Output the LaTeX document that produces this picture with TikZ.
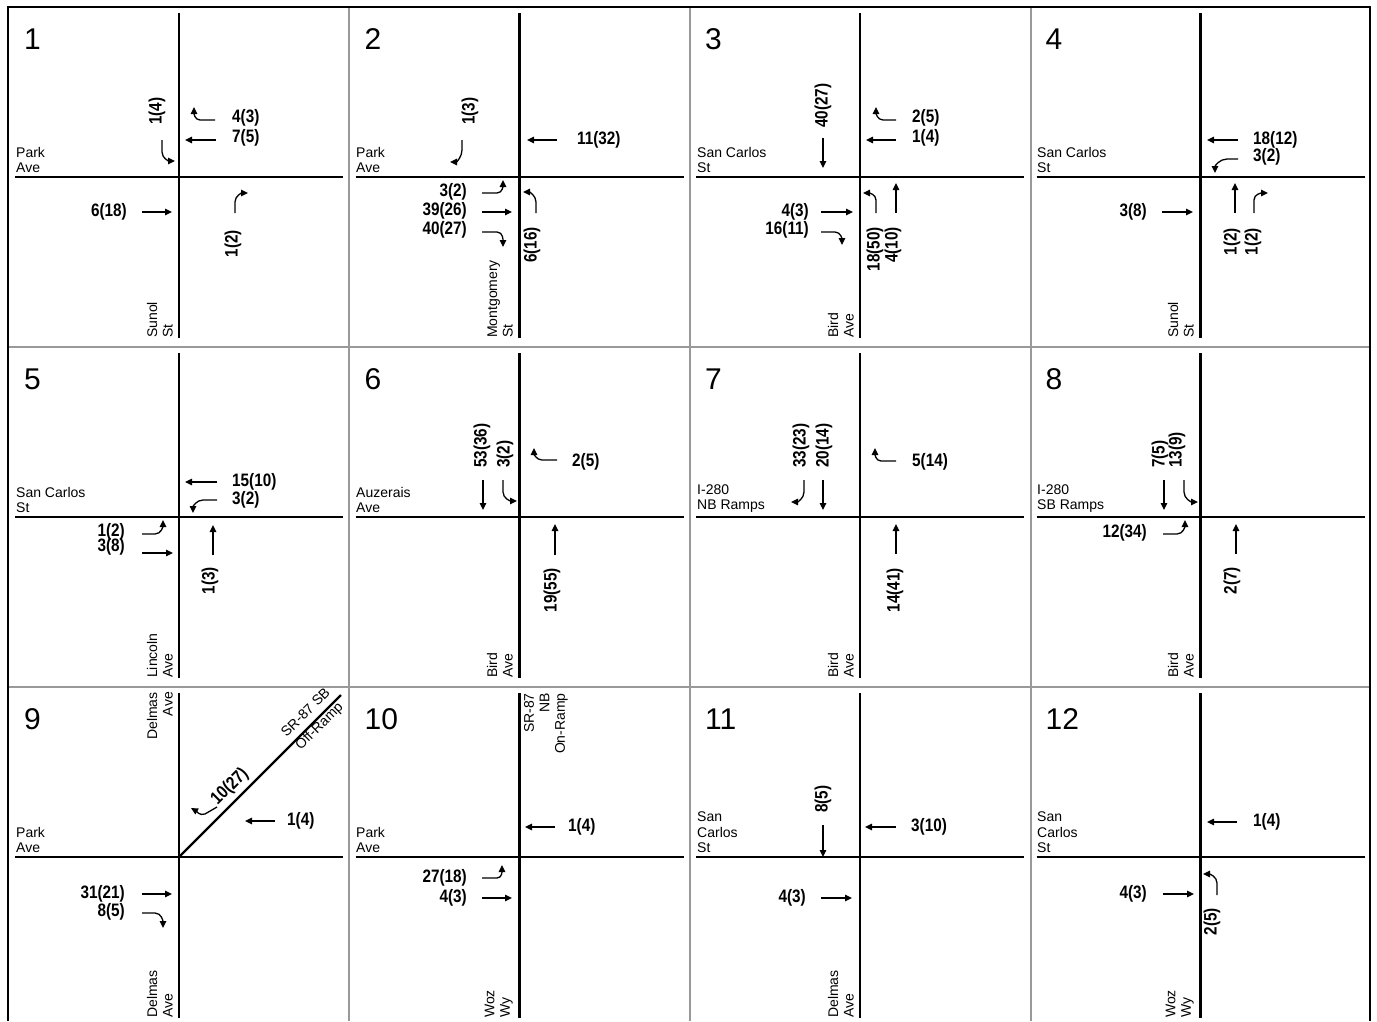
\documentclass[tikz,border=0pt]{standalone}
\usepackage{graphicx}
\usepackage{fontspec}
\setmainfont{Liberation Sans}
\usetikzlibrary{arrows.meta}

\newcommand{\vol}[1]{\scalebox{0.85}[1]{\bfseries #1}}

\begin{document}
\begin{tikzpicture}[x=1pt,y=1pt,
	road/.style={line width=2.2pt},
	mv/.style={line width=1.3pt,-{Triangle[length=7pt,width=6.5pt]}},
	cell/.style={line width=1.6pt,gray!80},
	frame/.style={line width=2pt,black},
	volw/.style={font=\fontsize{18}{18}\selectfont,inner sep=0pt,anchor=west},
	vole/.style={font=\fontsize{18}{18}\selectfont,inner sep=0pt,anchor=east},
	volsb/.style={font=\fontsize{18}{18}\selectfont,inner sep=0pt,rotate=90,anchor=west},
	volnb/.style={font=\fontsize{18}{18}\selectfont,inner sep=0pt,rotate=90,anchor=east},
	street/.style={font=\fontsize{14}{15.5}\selectfont,inner sep=0pt,anchor=south west,align=left},
	vstreet/.style={font=\fontsize{14}{15.5}\selectfont,inner sep=0pt,rotate=90,anchor=south west,align=left},
	pnum/.style={font=\fontsize{30}{30}\selectfont,inner sep=0pt,anchor=base west}]
	\useasboundingbox (0,0) rectangle (1377,-1021);
	
	% grid of panels
	\foreach \x in {349,690,1031}{
		\draw[cell] (\x,-7) -- (\x,-1021);
	}
	\foreach \y in {347,687}{
		\draw[cell] (8,-\y) -- (1370,-\y);
	}
	\draw[frame] (8,-1021) -- (8,-7) -- (1370,-7) -- (1370,-1021);
	
	% roads and panel numbers
	\foreach \r in {0,1,2}{
		\foreach \c in {0,...,3}{
			\pgfmathsetmacro\px{179+340.5*\c}
			\pgfmathsetmacro\py{-177-340*\r}
			\pgfmathtruncatemacro\k{4*\r+\c+1}
			\draw[road] (\px,\py+164) -- (\px,\py-161);
			\draw[road] (\px-164,\py) -- (\px+164,\py);
			\node[pnum] (num\k) at (\px-155,\py+128) {\k};
		}
	}
	
	% 1: Park Ave / Sunol St
	\begin{scope}[shift={(179,-177)}]
		\node[street] (st1a) at (-163,4) {Park\\Ave};
		\node[vstreet] (st1b) at (-6,-161) {Sunol\\St};
		\node[volsb] (v1s) at (-22,52) {\vol{1(4)}};
		\draw[mv] (-17,37) -- (-17,25) to[out=-90,in=180] (-4,16);
		\draw[mv] (36,57) -- (21,57) to[out=180,in=-90] (15,70);
		\draw[mv] (37,37) -- (6,37);
		\node[volw] (v1w1) at (53,59) {\vol{4(3)}};
		\node[volw] (v1w2) at (53,39) {\vol{7(5)}};
		\draw[mv] (-37,-35) -- (-7,-35);
		\node[vole] (v1e) at (-52,-35) {\vol{6(18)}};
		\draw[mv] (56,-36) -- (56,-25) to[out=90,in=180] (69,-16);
		\node[volnb] (v1n) at (54,-53) {\vol{1(2)}};
	\end{scope}
	
	% 2: Park Ave / Montgomery St
	\begin{scope}[shift={(519,-177)}]
		\node[street] (st2a) at (-163,4) {Park\\Ave};
		\node[vstreet] (st2b) at (-6,-161) {Montgomery\\St};
		\node[volsb] (v2s) at (-49,52) {\vol{1(3)}};
		\draw[mv] (-57,37) -- (-57,27) to[out=-90,in=0] (-69,15);
		\draw[mv] (38,37) -- (8,37);
		\node[volw] (v2w) at (58,37) {\vol{11(32)}};
		\draw[mv] (-37,-16) -- (-22,-16) to[out=0,in=-90] (-16,-3);
		\draw[mv] (-37,-35) -- (-7,-35);
		\draw[mv] (-37,-55) -- (-22,-55) to[out=0,in=90] (-16,-70);
		\node[vole] (v2e1) at (-52,-15) {\vol{3(2)}};
		\node[vole] (v2e2) at (-52,-34) {\vol{39(26)}};
		\node[vole] (v2e3) at (-52,-53) {\vol{40(27)}};
		\draw[mv] (17,-36) -- (17,-25) to[out=90,in=0] (4,-15);
		\node[volnb] (v2n) at (13,-50) {\vol{6(16)}};
	\end{scope}
	
	% 3: San Carlos St / Bird Ave
	\begin{scope}[shift={(860,-177)}]
		\node[street] (st3a) at (-163,4) {San Carlos\\St};
		\node[vstreet] (st3b) at (-6,-161) {Bird\\Ave};
		\node[volsb] (v3s) at (-37,49) {\vol{40(27)}};
		\draw[mv] (-37,39) -- (-37,9);
		\draw[mv] (36,57) -- (23,57) to[out=180,in=-90] (16,70);
		\draw[mv] (36,37) -- (6,37);
		\node[volw] (v3w1) at (52,59) {\vol{2(5)}};
		\node[volw] (v3w2) at (52,39) {\vol{1(4)}};
		\draw[mv] (-39,-35) -- (-7,-35);
		\draw[mv] (-39,-55) -- (-25,-55) to[out=0,in=90] (-18,-68);
		\node[vole] (v3e1) at (-51,-35) {\vol{4(3)}};
		\node[vole] (v3e2) at (-51,-53) {\vol{16(11)}};
		\draw[mv] (16,-36) -- (16,-23) to[out=90,in=0] (3,-16);
		\draw[mv] (36,-36) -- (36,-6);
		\node[volnb] (v3n1) at (15,-50) {\vol{18(50)}};
		\node[volnb] (v3n2) at (33,-50) {\vol{4(10)}};
	\end{scope}
	
	% 4: San Carlos St / Sunol St
	\begin{scope}[shift={(1200,-177)}]
		\node[street] (st4a) at (-163,4) {San Carlos\\St};
		\node[vstreet] (st4b) at (-6,-161) {Sunol\\St};
		\draw[mv] (38,37) -- (7,37);
		\draw[mv] (38,18) -- (27,18) to[out=180,in=90] (15,4);
		\node[volw] (v4w1) at (53,37) {\vol{18(12)}};
		\node[volw] (v4w2) at (53,20) {\vol{3(2)}};
		\draw[mv] (-38,-35) -- (-7,-35);
		\node[vole] (v4e) at (-53,-35) {\vol{3(8)}};
		\draw[mv] (35,-36) -- (35,-6);
		\draw[mv] (54,-36) -- (54,-23) to[out=90,in=180] (68,-16);
		\node[volnb] (v4n1) at (32,-51) {\vol{1(2)}};
		\node[volnb] (v4n2) at (53,-51) {\vol{1(2)}};
	\end{scope}
	
	% 5: San Carlos St / Lincoln Ave
	\begin{scope}[shift={(179,-517)}]
		\node[street] (st5a) at (-163,4) {San Carlos\\St};
		\node[vstreet] (st5b) at (-6,-161) {Lincoln\\Ave};
		\draw[mv] (38,35) -- (6,35);
		\draw[mv] (38,17) -- (24,17) to[out=180,in=90] (14,4);
		\node[volw] (v5w1) at (53,35) {\vol{15(10)}};
		\node[volw] (v5w2) at (53,17) {\vol{3(2)}};
		\draw[mv] (-37,-17) -- (-24,-17) to[out=0,in=-90] (-16,-3);
		\draw[mv] (-37,-36) -- (-6,-36);
		\node[vole] (v5e1) at (-54,-15) {\vol{1(2)}};
		\node[vole] (v5e2) at (-54,-30) {\vol{3(8)}};
		\draw[mv] (34,-38) -- (34,-8);
		\node[volnb] (v5n) at (31,-50) {\vol{1(3)}};
	\end{scope}
	
	% 6: Auzerais Ave / Bird Ave
	\begin{scope}[shift={(519,-517)}]
		\node[street] (st6a) at (-163,4) {Auzerais\\Ave};
		\node[vstreet] (st6b) at (-6,-161) {Bird\\Ave};
		\draw[mv] (-36,37) -- (-36,7);
		\draw[mv] (-16,37) -- (-16,25) to[out=-90,in=180] (-2,16);
		\node[volsb] (v6s1) at (-37,49) {\vol{53(36)}};
		\node[volsb] (v6s2) at (-14,49) {\vol{3(2)}};
		\draw[mv] (38,57) -- (23,57) to[out=180,in=-90] (15,69);
		\node[volw] (v6w) at (53,55) {\vol{2(5)}};
		\draw[mv] (36,-38) -- (36,-7);
		\node[volnb] (v6n) at (33,-51) {\vol{19(55)}};
	\end{scope}
	
	% 7: I-280 NB Ramps / Bird Ave
	\begin{scope}[shift={(860,-517)}]
		\node[street] (st7a) at (-163,4) {I-280\\NB Ramps};
		\node[vstreet] (st7b) at (-6,-161) {Bird\\Ave};
		\draw[mv] (-56,37) -- (-56,25) to[out=-90,in=0] (-69,15);
		\draw[mv] (-37,37) -- (-37,7);
		\node[volsb] (v7s1) at (-59,49) {\vol{33(23)}};
		\node[volsb] (v7s2) at (-36,49) {\vol{20(14)}};
		\draw[mv] (36,56) -- (21,56) to[out=180,in=-90] (15,69);
		\node[volw] (v7w) at (52,55) {\vol{5(14)}};
		\draw[mv] (36,-37) -- (36,-7);
		\node[volnb] (v7n) at (35,-51) {\vol{14(41)}};
	\end{scope}
	
	% 8: I-280 SB Ramps / Bird Ave
	\begin{scope}[shift={(1200,-517)}]
		\node[street] (st8a) at (-163,4) {I-280\\SB Ramps};
		\node[vstreet] (st8b) at (-6,-161) {Bird\\Ave};
		\draw[mv] (-36,37) -- (-36,7);
		\draw[mv] (-16,37) -- (-16,25) to[out=-90,in=180] (-2,15);
		\node[volsb] (v8s1) at (-40,49) {\vol{7(5)}};
		\node[volsb] (v8s2) at (-23,49) {\vol{13(9)}};
		\draw[mv] (-37,-17) -- (-23,-17) to[out=0,in=-90] (-15,-3);
		\node[vole] (v8e) at (-53,-16) {\vol{12(34)}};
		\draw[mv] (36,-37) -- (36,-7);
		\node[volnb] (v8n) at (32,-50) {\vol{2(7)}};
	\end{scope}
	
	% 9: Park Ave / Delmas Ave / SR-87 SB off-ramp
	\begin{scope}[shift={(179,-857)}]
		\node[street] (st9a) at (-163,4) {Park\\Ave};
		\node[vstreet] (st9b) at (-6,-161) {Delmas\\Ave};
		\node[vstreet,anchor=south east,align=right] (st9c) at (-6,165) {Delmas\\Ave};
		\coordinate (ramp9) at (162,162);
		\draw[road] (0,0) -- (ramp9);
		\node[font=\fontsize{14}{19}\selectfont,inner sep=0pt,rotate=45,align=center] (st9d) at (134,137) {SR-87 SB\\Off-Ramp};
		\node[font=\fontsize{18}{18}\selectfont,inner sep=0pt,rotate=45] (v9r) at (51,70) {\vol{10(27)}};
		\draw[mv] (38,50) -- (26,43) to[out=200,in=-30] (12,49);
		\draw[mv] (96,36) -- (66,36);
		\node[volw] (v9w) at (108,36) {\vol{1(4)}};
		\draw[mv] (-37,-37) -- (-7,-37);
		\draw[mv] (-37,-56) -- (-24,-56) to[out=0,in=90] (-16,-71);
		\node[vole] (v9e1) at (-54,-37) {\vol{31(21)}};
		\node[vole] (v9e2) at (-54,-55) {\vol{8(5)}};
	\end{scope}
	
	% 10: Park Ave / Woz Wy
	\begin{scope}[shift={(519,-857)}]
		\node[street] (st10a) at (-163,4) {Park\\Ave};
		\node[vstreet] (st10b) at (-6,-161) {Woz\\Wy};
		\node[vstreet,anchor=north east,align=right] (st10c) at (5,164) {SR-87\\NB\\On-Ramp};
		\draw[mv] (36,30) -- (6,30);
		\node[volw] (v10w) at (49,30) {\vol{1(4)}};
		\draw[mv] (-37,-21) -- (-22,-21) to[out=0,in=-90] (-17,-8);
		\draw[mv] (-37,-41) -- (-7,-41);
		\node[vole] (v10e1) at (-52,-21) {\vol{27(18)}};
		\node[vole] (v10e2) at (-52,-41) {\vol{4(3)}};
	\end{scope}
	
	% 11: San Carlos St / Delmas Ave
	\begin{scope}[shift={(860,-857)}]
		\node[street] (st11a) at (-163,4) {San\\Carlos\\St};
		\node[vstreet] (st11b) at (-6,-161) {Delmas\\Ave};
		\draw[mv] (-37,32) -- (-37,0);
		\node[volsb] (v11s) at (-37,44) {\vol{8(5)}};
		\draw[mv] (36,30) -- (5,30);
		\node[volw] (v11w) at (51,30) {\vol{3(10)}};
		\draw[mv] (-39,-41) -- (-8,-41);
		\node[vole] (v11e) at (-54,-41) {\vol{4(3)}};
	\end{scope}
	
	% 12: San Carlos St / Woz Wy
	\begin{scope}[shift={(1200,-857)}]
		\node[street] (st12a) at (-163,4) {San\\Carlos\\St};
		\node[vstreet] (st12b) at (-6,-161) {Woz\\Wy};
		\draw[mv] (37,35) -- (7,35);
		\node[volw] (v12w) at (53,35) {\vol{1(4)}};
		\draw[mv] (-37,-37) -- (-6,-37);
		\node[vole] (v12e) at (-53,-37) {\vol{4(3)}};
		\draw[mv] (17,-38) -- (17,-26) to[out=90,in=0] (3,-17);
		\node[volnb] (v12n) at (12,-51) {\vol{2(5)}};
	\end{scope}
\end{tikzpicture}
\end{document}
